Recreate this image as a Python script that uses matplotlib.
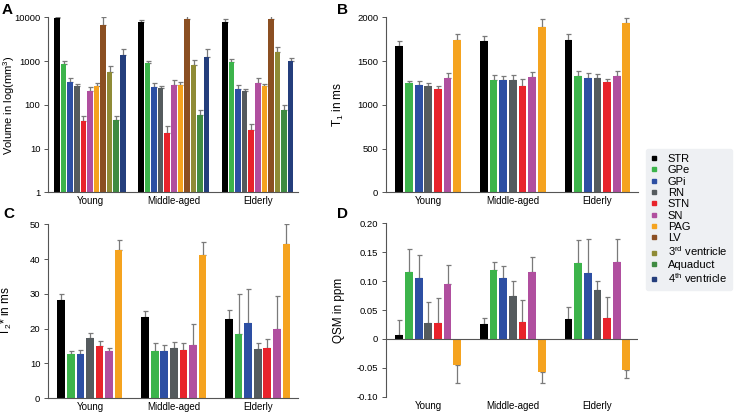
import numpy as np
import matplotlib.pyplot as plt
from matplotlib.lines import Line2D

plt.rcParams['font.family'] = ['Liberation Sans', 'DejaVu Sans']
plt.rcParams['mathtext.default'] = 'regular'

groups = ['Young', 'Middle-aged', 'Elderly']

regions = ['STR', 'GPe', 'GPi', 'RN', 'STN', 'SN', 'PAG', 'LV',
           '3$^{rd}$ ventricle', 'Aquaduct', '4$^{th}$ ventricle']
colors = ['#000000', '#3cb44b', '#2d4fa3', '#555b5e', '#e8232b', '#b04f9f',
          '#f5a31f', '#8b4f22', '#8f8b36', '#3f8b42', '#243e7c']

# Volume (mm^3), rows = age group, cols = all 11 regions
vol = np.array([[9500, 850, 340, 265, 42, 205, 275, 6800, 560, 45, 1400],
                [7800, 880, 255, 240, 23, 290, 290, 9000, 800, 60, 1250],
                [7800, 950, 230, 210, 27, 320, 270, 9000, 1600, 75, 1000]])
vol_err = np.array([[600, 150, 60, 40, 13, 50, 35, 3200, 220, 11, 450],
                    [900, 110, 60, 35, 10, 70, 40, 3500, 250, 18, 600],
                    [1200, 170, 60, 25, 10, 100, 35, 3500, 500, 25, 150]])

# T1 (ms), first 7 regions
t1 = np.array([[1670, 1250, 1230, 1215, 1180, 1310, 1740],
               [1725, 1285, 1280, 1285, 1220, 1315, 1890],
               [1740, 1325, 1305, 1310, 1255, 1330, 1935]])
t1_err = np.array([[55, 25, 40, 38, 35, 50, 67],
                   [60, 50, 45, 60, 70, 55, 85],
                   [70, 60, 60, 38, 45, 55, 55]])

# T2* (ms)
t2 = np.array([[28.1, 12.7, 12.7, 17.2, 15.0, 13.4, 42.5],
               [23.4, 13.4, 13.4, 14.4, 13.7, 15.3, 41.2],
               [22.8, 18.4, 21.6, 14.1, 14.5, 20.0, 44.2]])
t2_err = np.array([[1.8, 0.9, 1.1, 1.5, 1.4, 1.1, 2.9],
                   [1.6, 2.5, 1.8, 1.8, 2.2, 6.0, 3.7],
                   [2.5, 11.6, 9.8, 1.8, 2.4, 9.5, 5.9]])

# QSM (ppm)
qsm = np.array([[0.006, 0.115, 0.106, 0.027, 0.027, 0.095, -0.046],
                [0.026, 0.120, 0.106, 0.074, 0.030, 0.115, -0.058],
                [0.035, 0.131, 0.114, 0.084, 0.037, 0.133, -0.054]])
qsm_err = np.array([[0.026, 0.040, 0.040, 0.036, 0.043, 0.032, 0.031],
                    [0.011, 0.013, 0.020, 0.027, 0.038, 0.026, 0.018],
                    [0.020, 0.040, 0.058, 0.017, 0.035, 0.039, 0.014]])

qsm_ticks = [-0.10, -0.05, 0, 0.05, 0.10, 0.15, 0.20]
qsm_ticklabels = ['-0.10', '-0.05', '0', '0.05', '0.10', '0.15', '0.20']

W, H = 736, 413
fig = plt.figure(figsize=(W / 100, H / 100), dpi=100)


def make_ax(l, r, t, b):
    return fig.add_axes([l / W, 1 - b / H, (r - l) / W, (b - t) / H])


def draw(ax, vals, errs, slot, bw):
    n = vals.shape[1]
    for j in range(n):
        xs = np.arange(3) + (j - (n - 1) / 2) * slot
        v = vals[:, j]
        e = errs[:, j]
        up = np.where(v >= 0, e, 0)
        dn = np.where(v < 0, e, 0)
        ax.bar(xs, v, width=bw, color=colors[j], zorder=2)
        ax.errorbar(xs, v, yerr=[dn, up], fmt='none', ecolor='#7a7a7a',
                    elinewidth=0.9, capsize=1.8, capthick=0.9, zorder=1)
    ax.set_xlim(-0.5, 2.48)
    ax.set_xticks(range(3))
    ax.set_xticklabels(groups, fontsize=7)
    ax.tick_params(axis='x', length=0, pad=3)
    ax.tick_params(axis='y', labelsize=6.8, length=3, width=0.7,
                   color='#555555', pad=2.5)
    for s in ['top', 'right']:
        ax.spines[s].set_visible(False)
    for s in ['left', 'bottom']:
        ax.spines[s].set_color('#555555')
        ax.spines[s].set_linewidth(0.8)


# A
axA = make_ax(48, 298, 17.3, 192.3)
draw(axA, vol, vol_err, 0.0784, 0.066)
axA.set_yscale('log')
axA.set_ylim(1, 10000)
axA.set_yticks([1, 10, 100, 1000, 10000])
axA.set_yticklabels(['1', '10', '100', '1000', '10000'])
axA.minorticks_off()
axA.set_ylabel('Volume in log(mm$^3$)', fontsize=8)
axA.yaxis.set_label_coords(-0.124, 0.5)

# B
axB = make_ax(386, 638, 17.3, 192.3)
draw(axB, t1, t1_err, 0.114, 0.092)
axB.set_ylim(0, 2000)
axB.set_yticks([0, 500, 1000, 1500, 2000])
axB.set_ylabel('T$_1$ in ms', fontsize=8.5)
axB.yaxis.set_label_coords(-0.159, 0.5)

# C
axC = make_ax(48, 298, 224.3, 398)
draw(axC, t2, t2_err, 0.114, 0.092)
axC.set_ylim(0, 50)
axC.set_yticks([0, 10, 20, 30, 40, 50])
axC.set_ylabel('T$_2$* in ms', fontsize=8.5)
axC.yaxis.set_label_coords(-0.136, 0.5)

# D
axD = make_ax(386, 638, 223.3, 396.7)
draw(axD, qsm, qsm_err, 0.114, 0.092)
axD.set_ylim(-0.10, 0.20)
axD.set_yticks(qsm_ticks)
axD.set_yticklabels(qsm_ticklabels)
axD.spines['bottom'].set_visible(False)
axD.axhline(0, color='#555555', linewidth=0.8, zorder=3)
axD.set_ylabel('QSM in ppm', fontsize=8.5)
axD.yaxis.set_label_coords(-0.163, 0.5)

for lab, x, y in [('A', 2, 10), ('B', 337, 10), ('C', 3, 214), ('D', 337, 214)]:
    fig.text(x / W, 1 - y / H, lab, fontsize=11, fontweight='bold',
             ha='left', va='center')

handles = [Line2D([], [], marker='s', linestyle='none', markersize=3.5,
                  markerfacecolor=c, markeredgecolor=c) for c in colors]
leg = fig.legend(handles, regions, loc='upper left',
                 bbox_to_anchor=(646 / W, 1 - 149 / H), fontsize=8,
                 frameon=True, fancybox=True, labelspacing=0.12,
                 handlelength=0.6, handletextpad=0.9, borderpad=0.45,
                 borderaxespad=0)
leg.get_frame().set_facecolor('#eef0f3')
leg.get_frame().set_edgecolor('#eef0f3')
leg.get_frame().set_alpha(1)

fig.savefig('out.png', dpi=100)
